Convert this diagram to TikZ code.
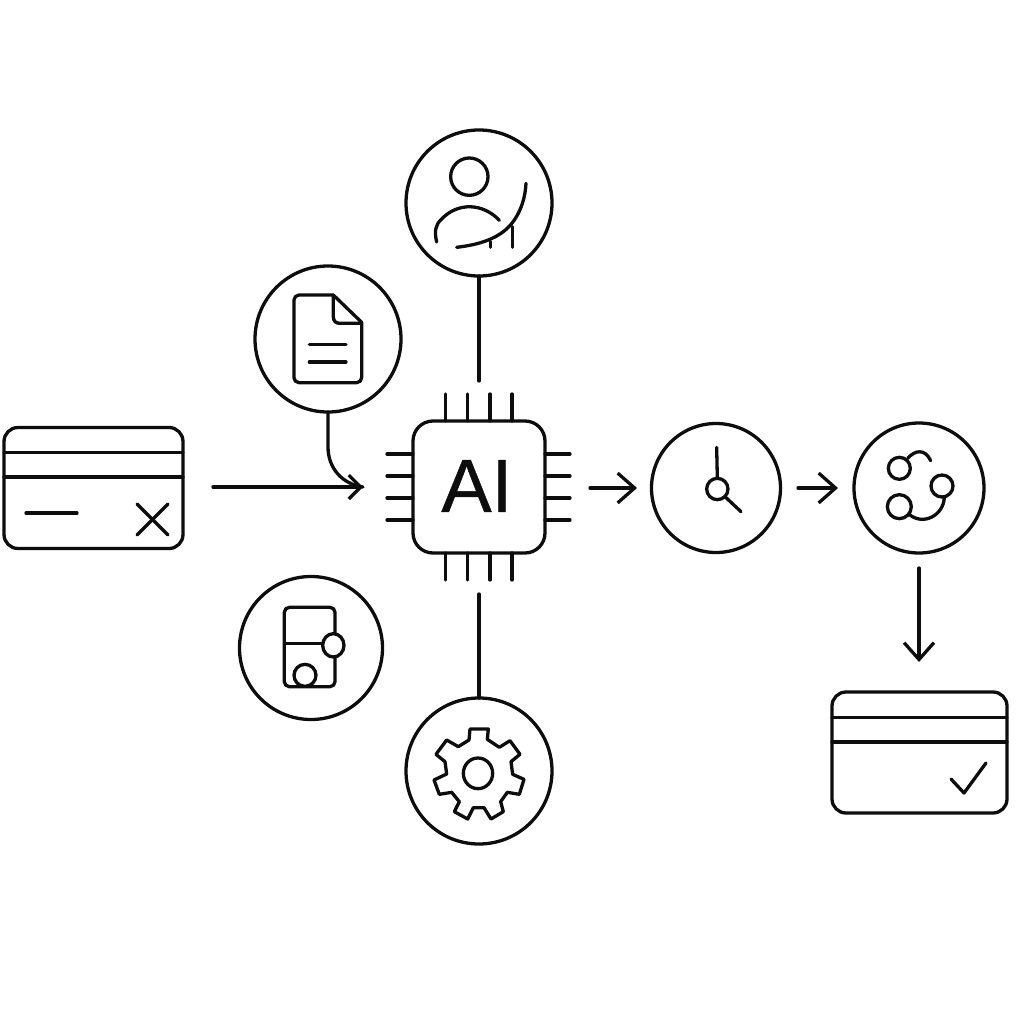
\documentclass[tikz,border=0pt]{standalone}
\usepackage{fontspec}
\setmainfont{Liberation Sans}
\newfontfamily\aifont[FakeBold=0.6]{Liberation Sans}
\usetikzlibrary{arrows.meta}
\newlength{\pxu}\setlength{\pxu}{0.02cm}
\tikzset{
  ink/.style={draw=black!95,line width=3.3\pxu,line cap=round,line join=round,outer sep=0pt},
  hub/.style={ink,circle,inner sep=0pt,minimum size=#1*\pxu},
  panel/.style={ink,rectangle,rounded corners=14\pxu,inner sep=0pt,minimum width=#1*\pxu},
  chipbox/.style={ink,rectangle,rounded corners=20\pxu,inner sep=0pt,minimum width=132\pxu,minimum height=132\pxu},
  flow/.style={ink,-{Straight Barb[length=6.8pt,width=13.6pt,line width=1.87pt]}},
  bigflow/.style={ink,-{Straight Barb[length=9.6pt,width=17pt,line width=1.87pt]}},
  zoomed/.style={shift={#1},x=0.02cm/3,y=-0.02cm/3}
}
\begin{document}
\begin{tikzpicture}[x=0.02cm,y=-0.02cm]
\useasboundingbox (0,0) rectangle (1024,1024);
% hubs
\node[hub=146] (user) at (479,203) {};
\node[hub=146] (doc) at (328,339) {};
\node[hub=143] (phone) at (311,648) {};
\node[hub=146] (gear) at (479,771) {};
\node[hub=129] (clock) at (716,488) {};
\node[hub=130] (net) at (919,488) {};
\node[chipbox] (chip) at (479,487) {};
\node[panel=179,minimum height=121\pxu] (cardx) at (93.5,488) {};
\node[panel=175,minimum height=121\pxu] (cardok) at (919.5,752.5) {};
\node[font=\aifont\fontsize{43}{50}\selectfont,inner sep=0pt,text=black!95] (ailabel) at (477,486) {AI};
% free ends
\coordinate (cx) at (213,487);
\coordinate (cin) at (363,487);
\coordinate (ctop) at (479,381);
\coordinate (cbot) at (479,594);
\coordinate (cr1) at (590,488);
\coordinate (cr2) at (637,488);
\coordinate (cc1) at (798,488);
\coordinate (cc2) at (838,488);
\coordinate (cd1) at (919,568);
\coordinate (cd2) at (919,662);
% connectors
\draw[ink] (user) -- (ctop);
\draw[ink] (gear) -- (cbot);
\draw[flow] (cx) -- (cin);
\draw[bigflow] (cr1) -- (cr2);
\draw[bigflow] (cc1) -- (cc2);
\draw[bigflow] (cd1) -- (cd2);
\draw[ink] (doc.south) -- (328,447) .. controls (328,468) and (342,484) .. (cin);
% chip pins
\foreach \p in {445.7,467.7,490,512}{
  \draw[ink] (\p,394) -- (\p,421);
  \draw[ink] (\p,553) -- (\p,580);
}
\foreach \p in {454,476,498,520}{
  \draw[ink] (387,\p) -- (413,\p);
  \draw[ink] (545,\p) -- (570,\p);
}
% user icon
\begin{scope}[zoomed={(400,120)}]
\draw[ink] (208,170) circle (56);
\draw[ink] (110,366) .. controls (103,335) and (105,315) .. (125,297) .. controls (175,245) and (250,250) .. (298,301);
\draw[ink] (378,190) .. controls (375,250) and (350,310) .. (300,342) .. controls (265,365) and (220,376) .. (170,382);
\draw[ink] (272,365) -- (272,382);
\draw[ink] (337,320) -- (337,382);
\end{scope}
% document icon
\begin{scope}[zoomed={(250,260)}]
\draw[ink,rounded corners=5\pxu] (250,105) -- (132,105) -- (132,368) -- (335,368) -- (335,187);
\draw[ink] (250,105) -- (335,187);
\draw[ink] (250,105) -- (250,170) .. controls (250,184) and (258,190) .. (270,190) -- (335,190);
\draw[ink] (178,254) -- (288,254);
\draw[ink] (178,306) -- (288,306);
\end{scope}
% phone icon
\begin{scope}[zoomed={(230,570)}]
\draw[ink,rounded corners=5\pxu] (163,112) rectangle (315,350);
\draw[ink] (163,220) -- (280,220);
\draw[ink,fill=white] (310,226) ellipse (32 and 35);
\draw[ink,fill=white] (225,316) circle (33);
\end{scope}
% gear icon
\begin{scope}[zoomed={(400,695)}]
\draw[ink] (210,102) -- (265,102) -- (262,133) -- (298,157) -- (330,137) -- (360,178) -- (333,200) -- (338,238) -- (372,253) -- (358,298) -- (322,292) -- (302,320) -- (310,350) -- (273,372) -- (252,338) -- (220,338) -- (203,372) -- (163,350) -- (178,320) -- (155,292) -- (118,298) -- (102,255) -- (140,237) -- (135,200) -- (108,178) -- (140,135) -- (175,155) -- (207,135) -- cycle;
\draw[ink] (234,235) ellipse (44 and 46);
\end{scope}
% clock and network icons
\begin{scope}[zoomed={(640,415)}]
\draw[ink] (232,222) circle (32);
\draw[ink] (230,97) -- (232,190);
\draw[ink] (256,246) -- (303,290);
\draw[ink] (778,160) circle (33);
\draw[ink] (906,213) circle (33);
\draw[ink] (778,275) circle (36);
\draw[ink] (803,130) .. controls (825,105) and (855,100) .. (872,137);
\draw[ink] (913,246) .. controls (912,300) and (850,335) .. (806,297);
\end{scope}
% card with cross
\draw[ink] (cardx.west |- 0,452.7) -- (cardx.east |- 0,452.7);
\draw[ink] (cardx.west |- 0,477) -- (cardx.east |- 0,477);
\draw[ink] (26,513) -- (77,513);
\draw[ink] (137,504) -- (168,535);
\draw[ink] (168,504) -- (137,535);
% card with check
\draw[ink] (cardok.west |- 0,717.7) -- (cardok.east |- 0,717.7);
\draw[ink] (cardok.west |- 0,742) -- (cardok.east |- 0,742);
\draw[ink] (951,779) -- (964,793) -- (986,763);
\end{tikzpicture}
\end{document}
